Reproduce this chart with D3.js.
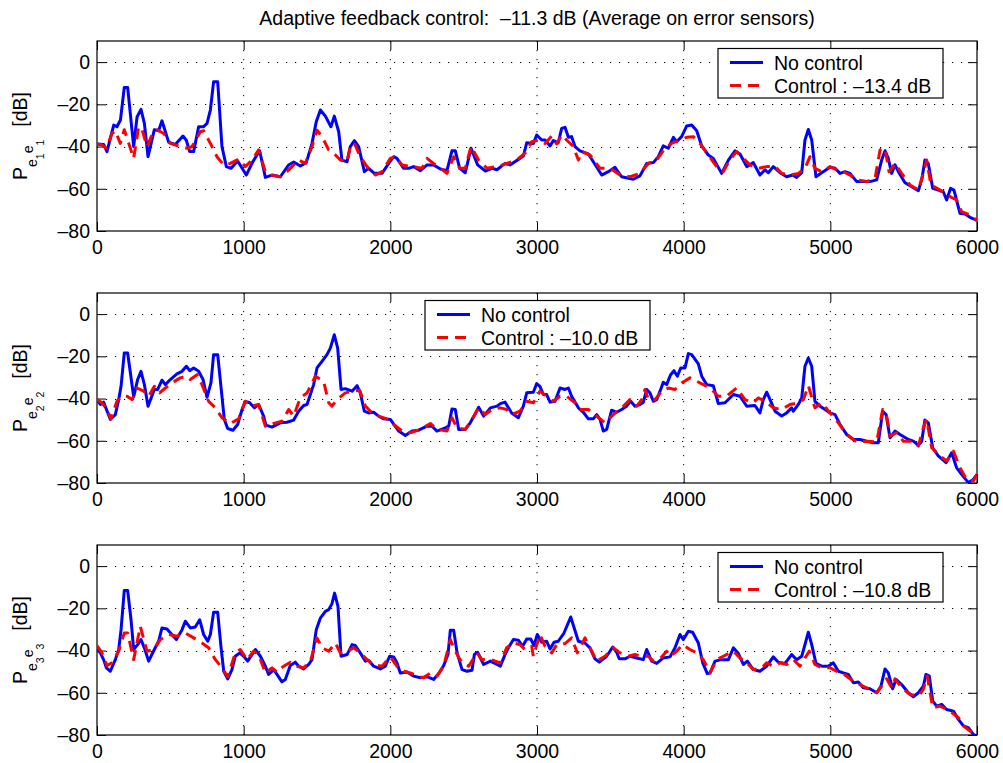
<!DOCTYPE html>
<html>
<head>
<meta charset="utf-8">
<script src="https://cdn.jsdelivr.net/npm/d3@7"></script>
<style>
  body { margin: 0; background: #fff; }
  text { font-family: 'Liberation Sans', Arial, Helvetica, sans-serif; }
</style>
</head>
<body>
<script>
const width = 1003;
const height = 763;

// tick values
const freqTicks = [0, 1000, 2000, 3000, 4000, 5000, 6000];
const dbTicks = [-80, -60, -40, -20, 0];

const titleText = 'Adaptive feedback control:  \u201311.3 dB (Average on error sensors)';
const seriesNames = ['No control', 'Control'];
const controlGains = ['\u201313.4 dB', '\u201310.0 dB', '\u201310.8 dB'];
const sensors = ['1', '2', '3'];

// [frequency, dB]
const noCtrl1 = [[0,-38.8],[45,-39],[68,-42.4],[114,-29.8],[136,-30.6],[160,-27.4],[186,-12],[209,-12],[250,-40],[273,-26],[300,-22.4],[323,-29],[348,-44.8],[391,-32],[420,-32.5],[443,-27.8],[489,-38],[534,-39],[586,-35],[609,-37],[632,-42.4],[659,-42.4],[693,-30.6],[727,-30.6],[750,-29],[773,-22.7],[795,-9.3],[823,-9.3],[852,-40],[882,-49.5],[914,-50.3],[959,-46.8],[1018,-53.5],[1059,-47.6],[1109,-42],[1148,-54.6],[1193,-53.5],[1250,-54.3],[1307,-48.7],[1341,-47.3],[1386,-49.2],[1427,-47.6],[1466,-38.5],[1495,-28.2],[1523,-22.7],[1557,-25.6],[1595,-30.6],[1618,-25.6],[1648,-33],[1670,-46.4],[1705,-47.2],[1727,-40],[1755,-37.2],[1784,-40],[1823,-51.9],[1852,-50.3],[1891,-52.7],[1943,-52.7],[1989,-48],[2023,-44.8],[2045,-45.6],[2091,-50.3],[2125,-50.3],[2159,-49.5],[2205,-51.4],[2250,-48.7],[2295,-48.7],[2341,-50.6],[2386,-51.4],[2420,-42],[2443,-42],[2473,-50.3],[2511,-52.4],[2550,-40.8],[2595,-48.7],[2648,-51.6],[2693,-50.3],[2727,-51],[2782,-48],[2816,-48.7],[2884,-45.6],[2907,-44.5],[2930,-38.2],[2975,-38.5],[2998,-34.5],[3032,-36.9],[3055,-36.9],[3089,-39.7],[3111,-37.2],[3145,-38.2],[3168,-31.4],[3191,-30.9],[3214,-35.6],[3236,-35.3],[3259,-40],[3293,-42],[3350,-43.5],[3384,-47.2],[3441,-53.5],[3486,-51.9],[3532,-49.8],[3577,-54.3],[3657,-55.5],[3702,-53.9],[3748,-48],[3793,-47.6],[3827,-44.8],[3861,-39.7],[3895,-40.8],[3930,-35.6],[3952,-37.7],[3986,-35.3],[4020,-30.3],[4055,-29.8],[4089,-32.5],[4123,-39.7],[4168,-44],[4202,-45.6],[4259,-52.7],[4305,-46.4],[4350,-42],[4384,-43.5],[4430,-49.5],[4475,-47.6],[4520,-53.5],[4555,-51],[4577,-52.4],[4611,-49.5],[4657,-52.4],[4702,-54.3],[4743,-53.5],[4770,-54.6],[4805,-52.4],[4827,-36.9],[4850,-31.9],[4873,-36.9],[4902,-54.3],[4941,-52.4],[4998,-49.8],[5032,-50.3],[5066,-52.7],[5100,-51.9],[5134,-52.7],[5180,-56.6],[5225,-56.6],[5270,-56.6],[5316,-55.8],[5350,-46.4],[5373,-42],[5395,-45.6],[5418,-52.7],[5441,-48.7],[5464,-51.9],[5509,-57.1],[5555,-59],[5600,-60.9],[5623,-55.8],[5645,-46.4],[5668,-48],[5698,-59.8],[5736,-60.6],[5770,-61.4],[5793,-65.3],[5820,-59.8],[5843,-60.6],[5884,-71.6],[5918,-71.9],[5952,-73.5],[6000,-75]];
const ctrl1 = [[0,-38.8],[34,-39.3],[64,-40.8],[102,-33.8],[125,-32.5],[159,-38.5],[186,-32],[250,-45.6],[284,-30.6],[307,-32],[341,-40],[375,-34.5],[409,-32],[455,-33.8],[500,-38.5],[568,-40],[614,-40.8],[648,-40],[705,-33],[727,-32.5],[773,-38.5],[818,-44.8],[864,-48.7],[909,-48],[966,-46],[1011,-49.5],[1057,-46.4],[1102,-41.6],[1148,-51.9],[1182,-53.5],[1250,-54.3],[1295,-51.9],[1330,-49.5],[1375,-46.4],[1420,-48],[1466,-40],[1500,-32.2],[1534,-35.3],[1580,-41.6],[1625,-44],[1659,-46.4],[1705,-47.2],[1727,-40],[1755,-38.5],[1795,-44.8],[1841,-49.5],[1898,-53.5],[1943,-51.9],[2000,-45.6],[2034,-44.8],[2080,-48.7],[2148,-49.5],[2216,-50.3],[2250,-45.6],[2295,-48],[2341,-50.3],[2386,-52.7],[2432,-44.8],[2473,-50.3],[2511,-50.3],[2550,-40],[2602,-46.4],[2659,-50.3],[2727,-49.5],[2793,-48],[2861,-46.4],[2930,-42.4],[2964,-37.7],[3009,-36.9],[3055,-38.5],[3100,-35],[3134,-38.8],[3168,-34.5],[3202,-36.9],[3248,-40],[3282,-46.4],[3305,-42.4],[3361,-44],[3430,-50.3],[3498,-50.3],[3566,-53.5],[3634,-54.3],[3702,-52.7],[3759,-48],[3816,-46.4],[3873,-40.8],[3918,-38.5],[3975,-36.9],[4020,-35.6],[4066,-35.3],[4111,-38.5],[4168,-44],[4225,-49.5],[4270,-51.9],[4314,-46.4],[4361,-42.4],[4407,-45.6],[4452,-48.7],[4509,-50.3],[4566,-49.5],[4623,-49.5],[4668,-52.7],[4725,-53.5],[4782,-52.7],[4827,-50.3],[4861,-44.8],[4895,-50.3],[4941,-51.9],[4998,-49.5],[5043,-51],[5089,-51.9],[5134,-53.5],[5180,-55.8],[5248,-56.6],[5305,-55],[5339,-41.6],[5373,-40.8],[5400,-51.9],[5441,-48],[5486,-52.7],[5543,-58.2],[5600,-60.6],[5634,-52.7],[5657,-46.4],[5686,-58.2],[5748,-60.6],[5816,-63.7],[5861,-65.3],[5895,-70.8],[5952,-72.4],[6000,-75]];

const noCtrl2 = [[0,-40.5],[23,-42.8],[45,-41.7],[91,-49.9],[125,-47.6],[148,-40.5],[164,-34.2],[186,-18.4],[209,-18.4],[250,-39.2],[277,-31],[300,-27.1],[323,-33.4],[348,-43.6],[391,-35.7],[414,-35.7],[443,-31.3],[466,-33.4],[500,-31],[545,-28.3],[580,-27.1],[609,-24.7],[632,-26.8],[659,-25.5],[693,-27.1],[723,-31],[750,-39.4],[777,-32.6],[795,-19.2],[823,-19.2],[845,-34.2],[868,-49.9],[891,-54.2],[927,-55],[959,-52.3],[989,-45.2],[1011,-41.3],[1041,-42],[1073,-44.4],[1102,-42.8],[1136,-48.3],[1152,-52.6],[1193,-53.5],[1250,-51.5],[1295,-51.2],[1341,-50.2],[1375,-46],[1409,-43.3],[1432,-42.8],[1477,-33.4],[1500,-25.5],[1534,-22.4],[1568,-19.2],[1591,-16.1],[1618,-9.8],[1641,-16.1],[1664,-35.7],[1693,-35.3],[1739,-36.5],[1773,-33.9],[1795,-37.3],[1823,-46],[1852,-46.8],[1886,-46.5],[1920,-48.3],[1955,-49.6],[2000,-49.9],[2057,-55.4],[2102,-57.5],[2148,-55.4],[2193,-55],[2250,-53.1],[2284,-53.1],[2318,-55.4],[2375,-53.9],[2398,-53.1],[2420,-44.9],[2443,-45.2],[2466,-54.6],[2511,-54.6],[2545,-51.5],[2580,-47.1],[2602,-44.1],[2636,-48.3],[2682,-44.4],[2727,-43.6],[2750,-42.4],[2782,-41.7],[2827,-46.8],[2873,-49.1],[2907,-43.6],[2930,-37.3],[2975,-37],[2998,-32.9],[3020,-34.2],[3043,-38.1],[3066,-38.1],[3089,-41.7],[3123,-41.3],[3157,-35],[3191,-35.7],[3214,-35],[3236,-38.9],[3282,-44.4],[3316,-46.5],[3350,-49.6],[3384,-49.6],[3407,-47.6],[3430,-49.9],[3452,-55.4],[3475,-54.6],[3509,-45.5],[3543,-46.5],[3577,-45.2],[3611,-43.6],[3639,-41.3],[3668,-43.6],[3702,-42.8],[3725,-41.7],[3748,-35.7],[3770,-37.3],[3793,-41.3],[3816,-40.5],[3839,-36.5],[3861,-32.3],[3884,-33.4],[3911,-28.7],[3934,-26.8],[3957,-29.4],[3980,-25.5],[4009,-25.5],[4032,-18.7],[4055,-19.2],[4100,-23.6],[4123,-29.4],[4157,-33.4],[4202,-33.9],[4236,-42.4],[4282,-42],[4339,-38.1],[4384,-38.9],[4430,-43.6],[4486,-43.3],[4520,-46.8],[4543,-40.5],[4566,-37],[4589,-40.5],[4623,-46],[4668,-48.3],[4702,-46.8],[4736,-44.4],[4748,-46],[4782,-42.8],[4805,-39.7],[4827,-24.7],[4850,-20.8],[4873,-24.7],[4895,-41.3],[4930,-43.6],[4964,-45.2],[4998,-46.8],[5032,-47.6],[5066,-52.3],[5111,-57],[5157,-59.4],[5202,-59.4],[5248,-60.2],[5293,-60.9],[5327,-60.9],[5357,-46],[5380,-47.6],[5407,-58.6],[5441,-55.4],[5475,-57],[5532,-59.4],[5566,-60.2],[5600,-62.2],[5623,-60.2],[5645,-50.2],[5668,-51.5],[5698,-63.3],[5736,-67.2],[5789,-70.4],[5827,-65.7],[5861,-72.8],[5895,-75.9],[5941,-79.8],[5975,-78.3],[6000,-75.9]];
const ctrl2 = [[0,-40.5],[34,-42],[68,-45.2],[95,-49.6],[136,-41.3],[170,-38.9],[205,-38.9],[239,-40.5],[273,-35],[318,-36.5],[352,-38.9],[391,-34.2],[427,-37.3],[466,-35],[511,-32.6],[568,-30.2],[609,-29.4],[636,-31],[682,-28.7],[716,-33.4],[761,-41.3],[807,-44.4],[852,-49.1],[909,-51.8],[966,-49.6],[1011,-41.3],[1050,-43.6],[1102,-42.8],[1148,-53.1],[1205,-51.8],[1261,-50.7],[1307,-45.2],[1341,-48.3],[1386,-39.7],[1432,-37.3],[1489,-29.4],[1545,-31.8],[1580,-42],[1602,-43.6],[1636,-40.5],[1693,-37.3],[1750,-36.5],[1791,-36.1],[1830,-43.6],[1864,-46],[1920,-48.3],[1977,-49.6],[2023,-52.3],[2080,-55.4],[2136,-56.2],[2205,-54.6],[2273,-51.8],[2318,-54.6],[2386,-55.4],[2420,-49.1],[2455,-53.9],[2511,-54.6],[2557,-49.9],[2602,-44.4],[2648,-47.6],[2693,-45.2],[2750,-44.4],[2793,-45.2],[2827,-47.6],[2884,-46],[2930,-41.3],[2975,-42],[3020,-36.5],[3066,-38.9],[3111,-41.3],[3157,-38.9],[3202,-38.9],[3259,-42],[3293,-45.2],[3350,-45.2],[3407,-48.3],[3464,-51.5],[3520,-47.6],[3577,-44.4],[3634,-40.5],[3680,-43.6],[3714,-40.5],[3736,-35.7],[3759,-40.5],[3805,-40.5],[3850,-36.5],[3895,-35],[3941,-35.7],[3986,-32.6],[4043,-30.2],[4089,-31.8],[4134,-33.4],[4180,-35],[4236,-38.9],[4293,-38.9],[4361,-35],[4418,-40.5],[4475,-42],[4509,-39.7],[4555,-41.3],[4611,-44.4],[4668,-45.2],[4725,-42.8],[4782,-42],[4816,-40.5],[4850,-33.9],[4895,-44.4],[4941,-42],[4998,-46.8],[5055,-51.5],[5111,-57],[5180,-60.6],[5248,-60.2],[5316,-60.6],[5357,-45.2],[5384,-48.3],[5407,-57.8],[5452,-56.2],[5498,-60.2],[5555,-60.2],[5600,-62.5],[5634,-53.9],[5657,-49.9],[5691,-63.3],[5748,-67.2],[5793,-69.6],[5839,-64.9],[5884,-72.8],[5929,-78.3],[5975,-79.1],[6000,-75.9]];

const noCtrl3 = [[0,-39.5],[23,-41.1],[45,-44.3],[64,-48.2],[91,-49.8],[125,-44.3],[148,-39.5],[164,-30.1],[186,-11.5],[209,-11.5],[232,-25.4],[250,-39.5],[277,-37.2],[300,-34.8],[323,-38.7],[352,-45],[391,-39.5],[420,-35.6],[443,-29.3],[477,-29.8],[541,-34.8],[580,-30.1],[602,-26.1],[636,-29.3],[670,-28.8],[700,-25.4],[727,-32.4],[755,-35.6],[773,-32.4],[795,-21.9],[823,-21.9],[845,-38],[864,-49.8],[891,-53.4],[920,-49],[943,-42.7],[973,-41.1],[1000,-42.7],[1027,-45],[1057,-41.9],[1080,-39.5],[1114,-42.7],[1148,-47.4],[1170,-51.3],[1205,-49],[1227,-51.3],[1261,-54.8],[1284,-53.7],[1318,-47.1],[1352,-45.5],[1375,-47.4],[1409,-48.7],[1443,-46.6],[1466,-44.3],[1495,-30.1],[1523,-24.6],[1557,-21.4],[1580,-20.6],[1602,-17.8],[1620,-12.8],[1643,-19.1],[1664,-42.7],[1705,-41.9],[1739,-37.2],[1761,-37.6],[1795,-41.1],[1830,-45],[1852,-44.6],[1886,-47.4],[1932,-48.7],[1966,-47.4],[1995,-42.7],[2023,-43],[2045,-45.8],[2068,-50.6],[2114,-50.2],[2159,-52.1],[2205,-52.9],[2250,-52.4],[2295,-53.7],[2330,-50.9],[2364,-47.1],[2393,-41.9],[2409,-30.4],[2432,-30.4],[2455,-41.1],[2489,-49],[2523,-49.8],[2557,-49.3],[2573,-41.9],[2595,-40.8],[2636,-46.6],[2682,-45],[2727,-46.6],[2750,-47.4],[2782,-41.9],[2805,-38.7],[2839,-34.8],[2873,-35.1],[2902,-38],[2930,-34.5],[2957,-34.5],[2980,-37.6],[3002,-32.4],[3032,-36.1],[3066,-35.6],[3089,-39.2],[3116,-36.1],[3145,-35.6],[3184,-31.7],[3230,-24.1],[3282,-35.6],[3327,-36.4],[3361,-38.7],[3395,-43.9],[3425,-45.5],[3475,-42.7],[3516,-38.3],[3543,-40.8],[3561,-43.9],[3600,-43.9],[3634,-42.7],[3680,-43.5],[3725,-44.3],[3748,-39.5],[3782,-45],[3816,-46.1],[3861,-43.5],[3907,-43],[3941,-38.7],[3975,-32.4],[3998,-34.8],[4032,-30.9],[4061,-31.3],[4100,-36.4],[4130,-45.8],[4161,-50.9],[4180,-50.6],[4214,-45],[4259,-44.3],[4305,-44.3],[4339,-38.7],[4373,-41.4],[4407,-46.6],[4434,-45],[4475,-49],[4520,-49.8],[4566,-47.4],[4611,-43],[4645,-45.5],[4691,-46.1],[4736,-41.9],[4770,-44.3],[4805,-42.7],[4827,-37.2],[4850,-31.3],[4873,-37.2],[4902,-46.1],[4941,-47.4],[4986,-47.4],[5020,-45.8],[5055,-49.8],[5089,-50.6],[5123,-51.3],[5157,-55.3],[5191,-54.9],[5225,-57.6],[5270,-58.1],[5316,-60],[5345,-56.9],[5373,-48.7],[5395,-50.6],[5425,-58.1],[5448,-53.7],[5486,-56.1],[5532,-60],[5566,-61.9],[5600,-60],[5634,-56.9],[5652,-51.3],[5675,-52.1],[5698,-63.9],[5725,-66.3],[5759,-65.5],[5793,-67.9],[5839,-68.7],[5873,-72.6],[5907,-75.7],[5941,-76.5],[5975,-79.7],[6000,-80.5]];
const ctrl3 = [[0,-37.6],[34,-41.1],[68,-47.1],[102,-45.8],[148,-40.3],[186,-31.7],[209,-31.7],[250,-44.3],[295,-28.5],[341,-40.3],[386,-39.5],[432,-34.8],[489,-32.4],[545,-33.2],[602,-31.7],[659,-34],[716,-36.4],[761,-38.7],[807,-44.3],[852,-48.2],[891,-52.4],[943,-41.1],[977,-39.5],[1023,-44.3],[1068,-40.3],[1102,-41.9],[1148,-50.6],[1193,-48.2],[1227,-50.2],[1273,-47.4],[1318,-45.5],[1364,-47.4],[1409,-48.2],[1455,-45],[1500,-34],[1534,-38.7],[1580,-40.3],[1625,-36.4],[1659,-41.1],[1705,-40.3],[1750,-38.7],[1795,-41.1],[1841,-44.3],[1886,-46.6],[1943,-47.4],[2000,-43],[2045,-47.4],[2091,-49.8],[2148,-50.9],[2182,-52.1],[2227,-52.9],[2273,-50.6],[2318,-52.1],[2364,-47.4],[2409,-34.8],[2443,-40.3],[2489,-45.8],[2534,-47.4],[2591,-41.1],[2625,-44.3],[2670,-43.9],[2716,-45],[2750,-45.8],[2793,-38.7],[2839,-36.4],[2884,-37.2],[2918,-39.5],[2964,-38],[2975,-42.7],[3020,-32.4],[3055,-38],[3100,-41.1],[3134,-37.2],[3191,-36.7],[3236,-34],[3275,-41.1],[3327,-34],[3373,-40.3],[3407,-45],[3464,-42.7],[3520,-38.7],[3566,-41.1],[3623,-42.7],[3668,-41.9],[3714,-42.7],[3759,-42.7],[3793,-45],[3839,-43.9],[3884,-40.3],[3907,-42.7],[3952,-40.3],[3993,-37.2],[4043,-39.5],[4089,-41.1],[4134,-44.3],[4180,-50.6],[4225,-44.3],[4270,-42.7],[4339,-40.3],[4384,-43.5],[4430,-45.8],[4475,-49],[4532,-48.2],[4566,-45.8],[4611,-47.4],[4657,-45.8],[4702,-46.6],[4748,-44.3],[4793,-47.4],[4827,-43.5],[4857,-40.3],[4895,-46.6],[4941,-48.2],[4998,-48.2],[5043,-49.8],[5089,-50.9],[5157,-54.6],[5225,-56.9],[5270,-58.4],[5316,-60],[5350,-56.9],[5384,-53.4],[5418,-57.6],[5441,-53.4],[5486,-57.6],[5543,-60.8],[5600,-61.6],[5634,-58.4],[5661,-52.1],[5698,-67.1],[5748,-66.3],[5816,-68.7],[5873,-71.8],[5907,-75.7],[5952,-78.1],[6000,-80.5]];

const noCtrl = [noCtrl1, noCtrl2, noCtrl3];
const ctrl = [ctrl1, ctrl2, ctrl3];

// layout
const plotLeft = 97, plotRight = 977, plotH = 190;
const panelTops = [41, 293, 545];
const legendLefts = [718, 425, 718];
const fontSize = 19.5;
const tickLen = 9;

let svg = d3.select('body').append('svg')
  .attr('width', width).attr('height', height)
  .style('background', '#fff');

svg.append('text')
  .attr('x', (plotLeft + plotRight) / 2)
  .attr('y', 25)
  .attr('text-anchor', 'middle')
  .attr('font-size', fontSize)
  .style('white-space', 'pre')
  .text(titleText);

const x = d3.scaleLinear([0, 6000], [plotLeft, plotRight]);
const fmt = (d) => (d < 0 ? '\u2013' + Math.abs(d) : String(d));

panelTops.forEach((top, i) => {
  const y = d3.scaleLinear([-80, 10], [top + plotH, top]);
  const g = svg.append('g');

  // grid
  g.selectAll('.vgrid').data(freqTicks.slice(1, -1)).join('line')
    .attr('x1', (d) => x(d)).attr('x2', (d) => x(d))
    .attr('y1', top).attr('y2', top + plotH)
    .attr('stroke', '#000').attr('stroke-width', 1)
    .attr('stroke-dasharray', '1.2 7.8');
  g.selectAll('.hgrid').data(dbTicks.slice(1)).join('line')
    .attr('x1', plotLeft).attr('x2', plotRight)
    .attr('y1', (d) => Math.round(y(d)) + 0.5).attr('y2', (d) => Math.round(y(d)) + 0.5)
    .attr('stroke', '#000').attr('stroke-width', 1)
    .attr('stroke-dasharray', '1.2 7.8');

  // axes, ticks inward on all four sides
  const axes = [
    [d3.axisLeft(y).tickValues(dbTicks).tickFormat(fmt).tickPadding(7), plotLeft, 0],
    [d3.axisRight(y).tickValues(dbTicks).tickFormat(''), plotRight, 0],
    [d3.axisBottom(x).tickValues(freqTicks).tickFormat(d3.format('d')).tickPadding(9), 0, top + plotH],
    [d3.axisTop(x).tickValues(freqTicks).tickFormat(''), 0, top],
  ];
  axes.forEach(([ax, tx, ty]) => {
    const a = g.append('g')
      .attr('transform', `translate(${tx},${ty})`)
      .call(ax.tickSize(-tickLen).tickSizeOuter(0));
    a.select('.domain').remove();
    a.attr('font-size', fontSize).attr('font-family', null);
    a.selectAll('line').attr('stroke', '#000');
    a.selectAll('text').attr('fill', '#000');
  });

  // box
  g.append('rect')
    .attr('x', plotLeft).attr('y', top)
    .attr('width', plotRight - plotLeft).attr('height', plotH)
    .attr('fill', 'none').attr('stroke', '#000').attr('stroke-width', 1.2);

  // curves
  const clipId = 'clip' + i;
  svg.append('clipPath').attr('id', clipId).append('rect')
    .attr('x', plotLeft).attr('y', top)
    .attr('width', plotRight - plotLeft).attr('height', plotH);

  const line = d3.line().x((d) => x(d[0])).y((d) => y(d[1]));
  const curves = g.append('g').attr('clip-path', `url(#${clipId})`);
  curves.append('path').datum(noCtrl[i]).attr('d', line)
    .attr('fill', 'none').attr('stroke', '#0000ff').attr('stroke-width', 3)
    .attr('stroke-linejoin', 'round');
  curves.append('path').datum(ctrl[i]).attr('d', line)
    .attr('fill', 'none').attr('stroke', '#ff0000').attr('stroke-width', 3)
    .attr('stroke-dasharray', '11 7').attr('stroke-linejoin', 'round');

  // legend
  const lx = legendLefts[i];
  const lg = g.append('g').attr('transform', `translate(${lx},${top + 7.5})`);
  lg.append('rect').attr('width', 225).attr('height', 49.5)
    .attr('fill', '#fff').attr('stroke', '#000').attr('stroke-width', 1.2);
  const rows = [
    { label: seriesNames[0], color: '#0000ff', dash: null, yy: 14 },
    { label: seriesNames[1] + ' : ' + controlGains[i], color: '#ff0000', dash: '11 7', yy: 37 },
  ];
  rows.forEach((r) => {
    lg.append('line').attr('x1', 12).attr('x2', 45).attr('y1', r.yy).attr('y2', r.yy)
      .attr('stroke', r.color).attr('stroke-width', 3).attr('stroke-dasharray', r.dash);
    lg.append('text').attr('x', 56).attr('y', r.yy).attr('dy', '0.36em')
      .attr('font-size', fontSize).text(r.label);
  });

  // y label  P_{e_i e_i}  [dB]
  const yl = g.append('text')
    .attr('transform', `translate(27,${top + plotH / 2}) rotate(-90)`)
    .attr('text-anchor', 'middle')
    .attr('font-size', fontSize);
  yl.append('tspan').text('P');
  yl.append('tspan').attr('dy', 10).attr('font-size', 14).text('e');
  yl.append('tspan').attr('dy', 7).attr('font-size', 10.5).text(sensors[i]);
  yl.append('tspan').attr('dy', -11).attr('font-size', 14).text('e');
  yl.append('tspan').attr('dy', 11).attr('font-size', 10.5).text(sensors[i]);
  yl.append('tspan').attr('dy', -17).attr('dx', 13).text('[dB]');
});
</script>
</body>
</html>
